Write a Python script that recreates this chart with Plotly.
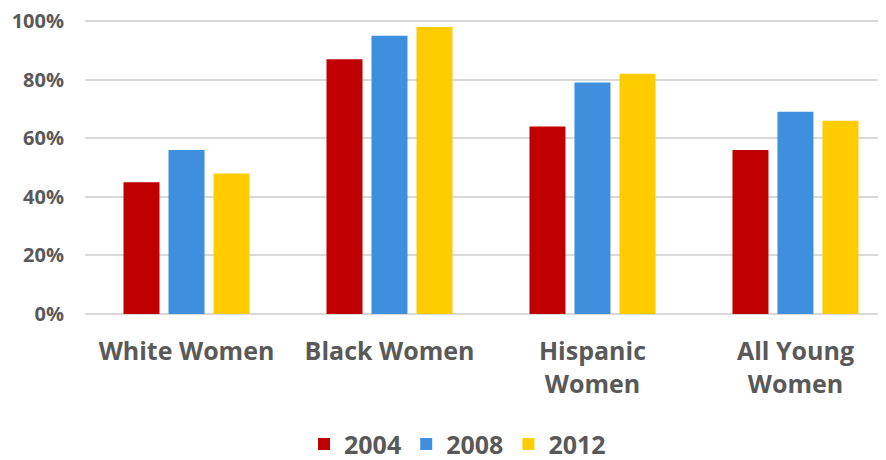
import plotly.graph_objects as go

categories = ["White Women", "Black Women", "Hispanic<br>Women", "All Young<br>Women"]
years = ["2004", "2008", "2012"]
v2004 = [45, 87, 64, 56]
v2008 = [56, 95, 79, 69]
v2012 = [48, 98, 82, 66]
colors = ["#C00000", "#3E8FDD", "#FFCC00"]
yticks = [0, 20, 40, 60, 80, 100]
yticklabels = ["0%", "20%", "40%", "60%", "80%", "100%"]

fig = go.Figure()
for name, vals, c in zip(years, [v2004, v2008, v2012], colors):
    fig.add_trace(go.Bar(x=list(range(len(categories))), y=vals, name=name,
                         marker=dict(color=c, line=dict(width=0))))

font_fam = "Open Sans, Liberation Sans, sans-serif"
fig.update_layout(
    width=878, height=452,
    margin=dict(l=77, r=0, t=11, b=146, autoexpand=False),
    paper_bgcolor="white", plot_bgcolor="white",
    barmode="group", bargap=0.335, bargroupgap=0.2,
    font=dict(family=font_fam, color="#595959"),
    showlegend=True,
    legend=dict(orientation="h", xref="container", x=0.512, xanchor="center",
                yref="container", y=0.035, yanchor="middle",
                font=dict(size=25, family=font_fam, color="#595959", weight="bold"),
                itemwidth=30, traceorder="normal"),
    xaxis=dict(tickmode="array", tickvals=list(range(len(categories))), ticktext=categories,
               range=[-0.5, 3.446], showgrid=False, zeroline=False, showline=False,
               ticks="", ticklabelstandoff=20, automargin=False, ticklabeloverflow="allow",
               tickfont=dict(size=25, family=font_fam, color="#595959", weight="bold")),
    yaxis=dict(range=[0, 100.7], tickmode="array", tickvals=yticks, ticktext=yticklabels,
               showgrid=True, gridcolor="#D9D9D9", gridwidth=1.5, zeroline=True,
               zerolinecolor="#D9D9D9", zerolinewidth=1.5, showline=False, ticks="",
               ticklabelstandoff=20, automargin=False, ticklabeloverflow="allow",
               tickfont=dict(size=20, family=font_fam, color="#595959", weight="bold")),
)

fig.write_html("out.html")
